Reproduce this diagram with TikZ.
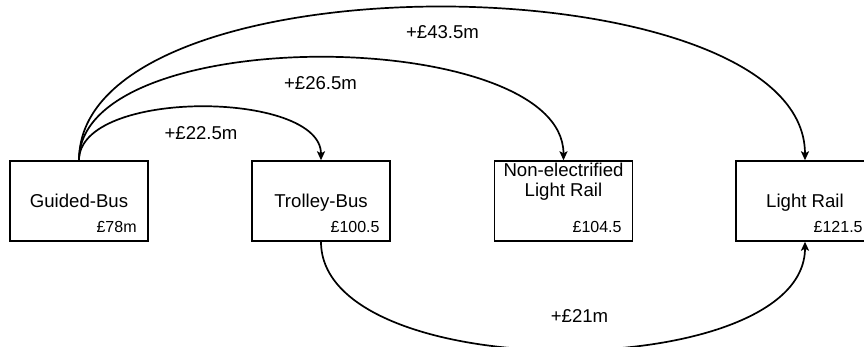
\documentclass[tikz,border=0pt]{standalone}
\usepackage{fontspec}
\setmainfont{Liberation Sans}
\usetikzlibrary{arrows.meta}
\tikzset{
  box/.style={draw, line width=0.7pt, minimum width=69pt, minimum height=40pt, inner sep=0pt},
  maintext/.style={font=\fontsize{9.3}{10.3}\selectfont, anchor=base, inner sep=0pt},
  price/.style={font=\fontsize{8}{9}\selectfont, anchor=base east, inner sep=0pt},
  elabel/.style={font=\fontsize{9.3}{10.3}\selectfont, anchor=base, inner sep=0pt},
  conn/.style={line width=0.85pt, -{Stealth[length=4.5pt,width=4pt,inset=1pt]}}
}
\begin{document}
\begin{tikzpicture}[x=0.5pt,y=-0.5pt]
\useasboundingbox (0,0) rectangle (864,347);
\clip (0,0) rectangle (864,347);
% boxes
\node[box] (gb) at (79,201) {};
\node[box] (tb) at (321,201) {};
\node[box] (ne) at (563.5,201) {};
\node[box] (lr) at (805,201) {};
% texts
\node[maintext] (gbt) at (79,208) {Guided-Bus};
\node[maintext] (tbt) at (321,208) {Trolley-Bus};
\node[maintext] (net1) at (563.5,176.5) {Non-electrified};
\node[maintext] (net2) at (563.5,197) {Light Rail};
\node[maintext] (lrt) at (805,208) {Light Rail};
\node[price] (gbp) at (137,233) {£78m};
\node[price] (tbp) at (380,233) {£100.5};
\node[price] (nep) at (622,233) {£104.5};
\node[price] (lrp) at (863,233) {£121.5};
% connectors
\draw[conn] (gb.north) .. controls +(0,-72) and +(0,-70) .. (tb.north);
\draw[conn] (gb.north) .. controls +(0,-140) and +(0,-134) .. (ne.north);
\draw[conn] (gb.north) .. controls +(0,-208) and +(0,-200) .. (lr.north);
\draw[conn] (tb.south) .. controls +(0,145) and +(0,143) .. (lr.south);
% labels
\node[elabel] (l1) at (201,140) {+£22.5m};
\node[elabel] (l2) at (320.5,89.5) {+£26.5m};
\node[elabel] (l3) at (442.5,38.3) {+£43.5m};
\node[elabel] (l4) at (579.5,322.7) {+£21m};
\end{tikzpicture}
\end{document}
